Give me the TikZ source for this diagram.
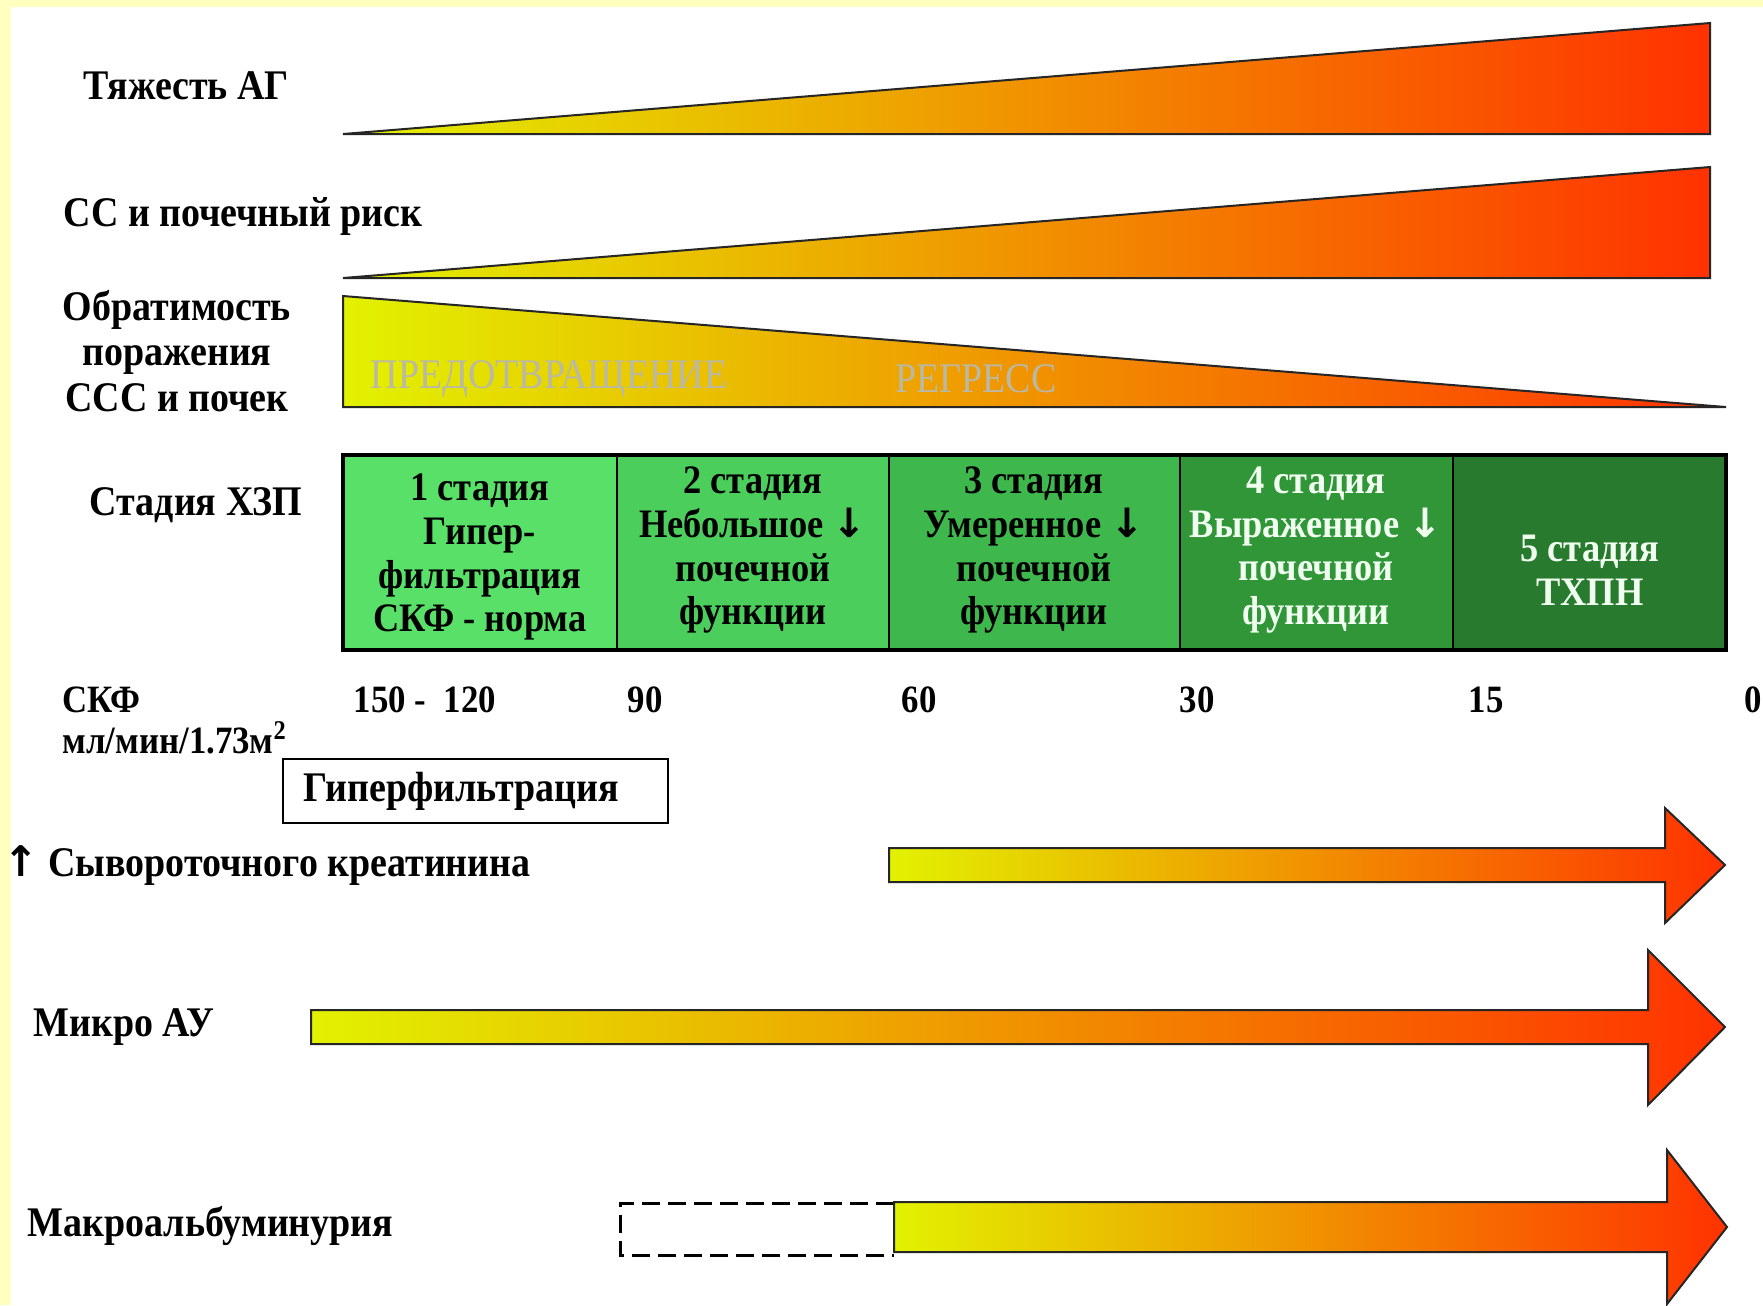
\documentclass[tikz,border=0pt]{standalone}
\usepackage{fontspec}
\setmainfont{Liberation Serif}[FakeStretch=0.9]
\newfontfamily\arrowfont{DejaVu Sans}
\definecolor{frameyellow}{RGB}{255,255,192}
\definecolor{rampyellow}{RGB}{226,242,0}
\definecolor{ramporange}{RGB}{250,170,0}
\definecolor{rampred}{RGB}{255,50,0}
\definecolor{ghost}{RGB}{185,185,165}
\definecolor{stageA}{RGB}{88,224,104}
\definecolor{stageB}{RGB}{76,206,92}
\definecolor{stageC}{RGB}{62,184,76}
\definecolor{stageD}{RGB}{48,150,56}
\definecolor{stageE}{RGB}{40,122,46}
\definecolor{paletext}{RGB}{240,255,240}
\newcommand{\dn}{{\arrowfont ↓}}
\begin{document}
\begin{tikzpicture}[x=0.1mm,y=-0.1mm,
	lbl/.style={font=\bfseries\fontsize{12}{13}\selectfont,align=center,inner sep=0pt},
	celltxt/.style={font=\bfseries\fontsize{11.5}{12.5}\selectfont,align=center,inner sep=0pt},
	num/.style={font=\bfseries\fontsize{11}{12}\selectfont,inner sep=0pt},
	ramp/.style={draw=black!85,line width=0.2mm,left color=rampyellow,middle color=ramporange,right color=rampred}]
	\fill[frameyellow] (0,0) rectangle (1763,1305);
	\fill[white] (11,7) rectangle (1763,1305);
	\useasboundingbox (0,0) rectangle (1763,1305);
	\draw[ramp] (343,134) -- (1710,23) -- (1710,134) -- cycle;
	\draw[ramp] (343,278) -- (1710,167) -- (1710,278) -- cycle;
	\draw[ramp] (343,296) -- (1726,407) -- (343,407) -- cycle;
	\node[lbl,font=\fontsize{12}{11}\selectfont,text=ghost] (prevent) at (549,379) {ПРЕДОТВРАЩЕНИЕ};
	\node[lbl,font=\fontsize{12}{11}\selectfont,text=ghost] (regress) at (976,379) {РЕГРЕСС};
	\node[lbl,anchor=west] (severity) at (83,86) {Тяжесть АГ};
	\node[lbl,anchor=west] (risk) at (63,216) {СС и почечный риск};
	\node[lbl] (reverse) at (177,351) {Обратимость\\поражения\\ССС и почек};
	\node[lbl] (stagehead) at (196,505) {Стадия ХЗП};
	\fill[stageA] (343,455) rectangle (617,650);
	\fill[stageB] (617,455) rectangle (889,650);
	\fill[stageC] (889,455) rectangle (1180,650);
	\fill[stageD] (1180,455) rectangle (1453,650);
	\fill[stageE] (1453,455) rectangle (1726,650);
	\draw[line width=0.4mm] (343,455) rectangle (1726,650);
	\foreach \x in {617,889,1180,1453}
		\draw[line width=0.2mm] (\x,455) -- (\x,650);
	\node[celltxt] (s1) at (480,557) {1 стадия\\Гипер-\\фильтрация\\СКФ - норма};
	\node[celltxt] (s2) at (753,550) {2 стадия\\Небольшое \dn\\почечной\\функции};
	\node[celltxt] (s3) at (1034,550) {3 стадия\\Умеренное \dn\\почечной\\функции};
	\node[celltxt,text=paletext] (s4) at (1316,550) {4 стадия\\Выраженное \dn\\почечной\\функции};
	\node[celltxt,text=paletext] (s5) at (1590,570) {5 стадия\\ТХПН};
	\node[num,anchor=west] (gfr) at (62,700) {СКФ};
	\node[num,anchor=west] (gfrunit) at (62,738) {мл/мин/1.73м\textsuperscript{2}};
	\node[num] (n150) at (425,700) {150 -\ \ 120};
	\foreach \v/\x in {90/645,60/919,30/1197,15/1486,0/1753}
		\node[num] (n\v) at (\x,700) {\v};
	\draw[line width=0.2mm] (283,759) rectangle (668,823);
	\node[lbl] (hyper) at (461,791) {Гиперфильтрация};
	\node[lbl,anchor=west] (creat) at (3,866) {{\arrowfont ↑} Сывороточного креатинина};
	\draw[ramp] (889,848) -- (1665,848) -- (1665,808) -- (1725,865) -- (1665,923) -- (1665,882) -- (889,882) -- cycle;
	\node[lbl,anchor=west] (micro) at (33,1027) {Микро АУ};
	\draw[ramp] (311,1010) -- (1648,1010) -- (1648,950) -- (1725,1027) -- (1648,1105) -- (1648,1044) -- (311,1044) -- cycle;
	\node[lbl,anchor=west] (macro) at (27,1226) {Макроальбуминурия};
	\draw[line width=0.3mm,dash pattern=on 1.8mm off 0.8mm] (894,1203) -- (620,1203) -- (620,1255) -- (894,1255);
	\draw[ramp] (894,1202) -- (1667,1202) -- (1667,1150) -- (1727,1227) -- (1667,1304) -- (1667,1252) -- (894,1252) -- cycle;
\end{tikzpicture}
\end{document}
